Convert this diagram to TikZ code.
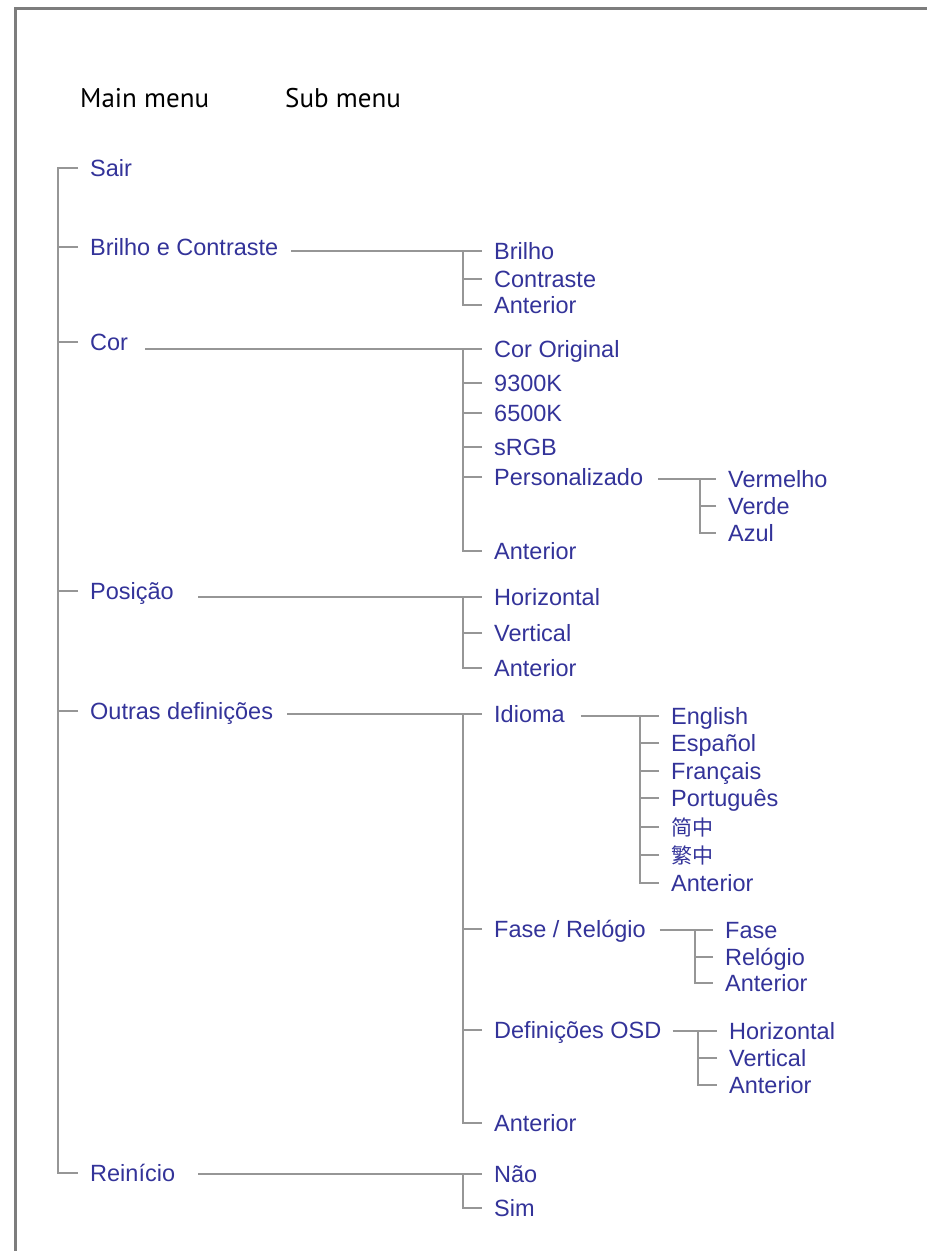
\documentclass[tikz,border=0pt]{standalone}
\usepackage{fontspec}
\setmainfont{Liberation Sans}
\newfontfamily\headfont{PT Sans}
\newfontfamily\cjk{Noto Sans CJK SC}
\usetikzlibrary{positioning}
\definecolor{menublue}{RGB}{51,51,153}
\definecolor{linegray}{RGB}{150,150,150}
\definecolor{framegray}{RGB}{125,125,125}

\begin{document}
\begin{tikzpicture}[x=1pt,y=-1pt,
  item/.style={anchor=west,inner sep=0pt,text=menublue,text height=17pt,text depth=0pt,
    font=\fontsize{23.5}{26}\selectfont},
  head/.style={anchor=west,inner sep=0pt,text height=19pt,text depth=0pt,
    font=\headfont\fontsize{27}{30}\selectfont},
  tree/.style={draw=linegray,line width=2pt}]

\useasboundingbox (0,0) rectangle (927,1251);
\draw[framegray,line width=3pt] (15,1251) -- (15,8) -- (927,8);

\node[head] (mainhd) at (80,98) {Main menu};
\node[head] (subhd) at (285,98) {Sub menu};

% main menu
\node[item] (sair) at (90,168) {Sair};
\node[item] (bc) at (90,247) {Brilho e Contraste};
\node[item] (cor) at (90,342) {Cor};
\node[item] (pos) at (90,591) {Posição};
\node[item] (outras) at (90,711) {Outras definições};
\node[item] (reset) at (90,1173) {Reinício};

% sub menus
\node[item] (brilho) at (494,251) {Brilho};
\node[item] (contraste) at (494,279) {Contraste};
\node[item] (bcant) at (494,305) {Anterior};

\node[item] (corig) at (494,349) {Cor Original};
\node[item] (k93) at (494,383) {9300K};
\node[item] (k65) at (494,413) {6500K};
\node[item] (srgb) at (494,447) {sRGB};
\node[item] (perso) at (494,477) {Personalizado};
\node[item] (corant) at (494,551) {Anterior};

\node[item] (verm) at (728,479) {Vermelho};
\node[item] (verde) at (728,506) {Verde};
\node[item] (azul) at (728,533) {Azul};

\node[item] (horiz) at (494,597) {Horizontal};
\node[item] (vert) at (494,633) {Vertical};
\node[item] (posant) at (494,668) {Anterior};

\node[item] (idioma) at (494,714) {Idioma};
\node[item] (fase) at (494,929) {Fase / Relógio};
\node[item] (osd) at (494,1030) {Definições OSD};
\node[item] (outant) at (494,1123) {Anterior};

\node[item] (en) at (671,716) {English};
\node[item] (es) at (671,743) {Español};
\node[item] (fr) at (671,771) {Français};
\node[item] (pt) at (671,798) {Português};
\node[item] (zhs) at (671,827) {\cjk\fontsize{21}{24}\selectfont 简中};
\node[item] (zht) at (671,855) {\cjk\fontsize{21}{24}\selectfont 繁中};
\node[item] (idant) at (671,883) {Anterior};

\node[item] (fasef) at (725,930) {Fase};
\node[item] (relog) at (725,957) {Relógio};
\node[item] (faseant) at (725,983) {Anterior};

\node[item] (osdh) at (729,1031) {Horizontal};
\node[item] (osdv) at (729,1058) {Vertical};
\node[item] (osdant) at (729,1085) {Anterior};

\node[item] (nao) at (494,1174) {Não};
\node[item] (sim) at (494,1208) {Sim};

% main tree
\draw[tree] ([xshift=-12pt]sair.west) -| ([xshift=-32pt]reset.west) -- ([xshift=-12pt]reset.west);
\foreach \m in {bc,cor,pos,outras}
  \draw[tree] ([xshift=-12pt]\m.west) -- ++(-20pt,0);

% parent to first child
\draw[tree] (bc.east |- brilho.west) ++(13pt,0) -- ([xshift=-12pt]brilho.west);
\draw[tree] (cor.east |- corig.west) ++(17pt,0) -- ([xshift=-12pt]corig.west);
\draw[tree] (perso.east |- verm.west) ++(15pt,0) -- ([xshift=-12pt]verm.west);
\draw[tree] (pos.east |- horiz.west) ++(24pt,0) -- ([xshift=-12pt]horiz.west);
\draw[tree] (outras.east |- idioma.west) ++(14pt,0) -- ([xshift=-12pt]idioma.west);
\draw[tree] (idioma.east |- en.west) ++(16pt,0) -- ([xshift=-12pt]en.west);
\draw[tree] (fase.east |- fasef.west) ++(14pt,0) -- ([xshift=-12pt]fasef.west);
\draw[tree] (osd.east |- osdh.west) ++(11pt,0) -- ([xshift=-12pt]osdh.west);
\draw[tree] (reset.east |- nao.west) ++(23pt,0) -- ([xshift=-12pt]nao.west);

% sub trunks
\draw[tree] ([xshift=-31pt]brilho.west) |- ([xshift=-12pt]bcant.west);
\draw[tree] ([xshift=-31pt]corig.west) |- ([xshift=-12pt]corant.west);
\draw[tree] ([xshift=-28pt]verm.west) |- ([xshift=-12pt]azul.west);
\draw[tree] ([xshift=-31pt]horiz.west) |- ([xshift=-12pt]posant.west);
\draw[tree] ([xshift=-31pt]idioma.west) |- ([xshift=-12pt]outant.west);
\draw[tree] ([xshift=-31pt]en.west) |- ([xshift=-12pt]idant.west);
\draw[tree] ([xshift=-30pt]fasef.west) |- ([xshift=-12pt]faseant.west);
\draw[tree] ([xshift=-31pt]osdh.west) |- ([xshift=-12pt]osdant.west);
\draw[tree] ([xshift=-31pt]nao.west) |- ([xshift=-12pt]sim.west);

% middle ticks
\foreach \s in {contraste,k93,k65,srgb,perso,vert,fase,osd}
  \draw[tree] ([xshift=-12pt]\s.west) -- ++(-19pt,0);
\draw[tree] ([xshift=-12pt]verde.west) -- ++(-16pt,0);
\foreach \s in {es,fr,pt,zhs,zht}
  \draw[tree] ([xshift=-12pt]\s.west) -- ++(-19pt,0);
\draw[tree] ([xshift=-12pt]relog.west) -- ++(-18pt,0);
\draw[tree] ([xshift=-12pt]osdv.west) -- ++(-19pt,0);
\end{tikzpicture}
\end{document}
